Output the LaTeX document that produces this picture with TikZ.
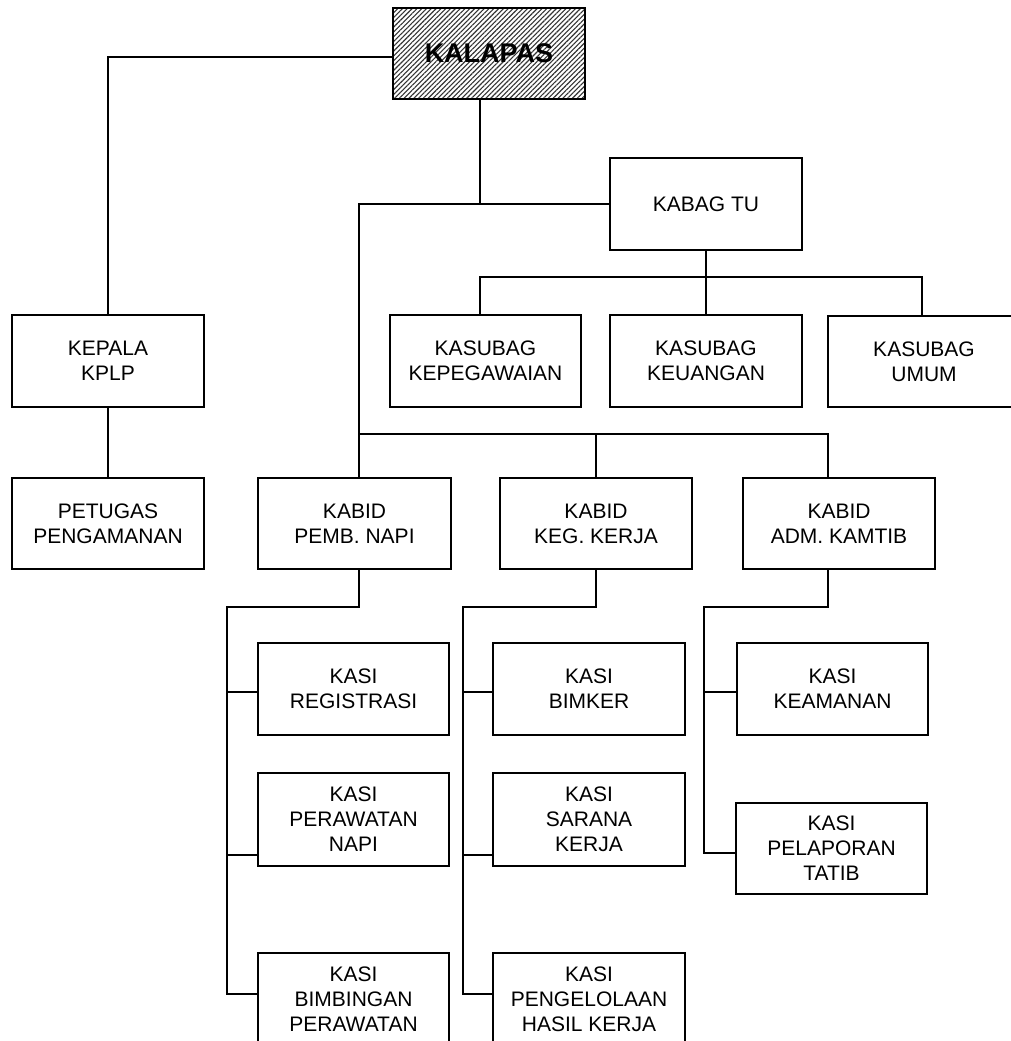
\documentclass[tikz,border=0pt]{standalone}
\usepackage{fontspec}
\setmainfont{Liberation Sans}
\usetikzlibrary{patterns.meta}
\tikzset{
  box/.style={draw=black, line width=1.2pt, fill=white, minimum width=192pt, minimum height=92pt, inner sep=0pt, align=center, font=\fontsize{21}{25}\selectfont},
  headbox/.style={box, minimum height=91pt, pattern={Lines[angle=45,distance=3.4pt,line width=1.1pt]}, pattern color=black!80, font=\fontsize{27}{30}\selectfont\bfseries},
  conn/.style={line width=1.2pt, line cap=rect}
}
\begin{document}
\begin{tikzpicture}[x=1pt,y=-1pt]
\useasboundingbox (0,0) rectangle (1011,1041);
\clip (0,0) rectangle (1011,1041);
% nodes
\node[headbox] (kalapas) at (489,53.5) {KALAPAS};
\node[box] (kplp) at (108,361) {KEPALA\\KPLP};
\node[box, minimum height=91pt] (petugas) at (108,523.5) {PETUGAS\\PENGAMANAN};
\node[box] (kabagtu) at (706,204) {KABAG TU};
\node[box, minimum width=191pt] (kepeg) at (485.5,361) {KASUBAG\\KEPEGAWAIAN};
\node[box] (keu) at (706,361) {KASUBAG\\KEUANGAN};
\node[box, minimum height=91pt] (umum) at (924,361.5) {KASUBAG\\UMUM};
\node[box, minimum width=193pt, minimum height=91pt] (kabid1) at (354.5,523.5) {KABID\\PEMB. NAPI};
\node[box, minimum height=91pt] (kabid2) at (596,523.5) {KABID\\KEG. KERJA};
\node[box, minimum height=91pt] (kabid3) at (839,523.5) {KABID\\ADM. KAMTIB};
\node[box, minimum width=191pt] (reg) at (353.5,689) {KASI\\REGISTRASI};
\node[box, minimum width=191pt, minimum height=93pt] (rawat) at (353.5,819.5) {KASI\\PERAWATAN\\NAPI};
\node[box, minimum width=191pt] (bimb) at (353.5,999) {KASI\\BIMBINGAN\\PERAWATAN};
\node[box] (bimker) at (589,689) {KASI\\BIMKER};
\node[box, minimum height=93pt] (sarana) at (589,819.5) {KASI\\SARANA\\KERJA};
\node[box] (hasil) at (589,999) {KASI\\PENGELOLAAN\\HASIL KERJA};
\node[box, minimum width=191pt] (aman) at (832.5,689) {KASI\\KEAMANAN};
\node[box, minimum width=191pt, minimum height=91pt] (lapor) at (831.5,848.5) {KASI\\PELAPORAN\\TATIB};
% junction coordinates
\coordinate (jA) at (480,204);
\coordinate (jB) at (359,204);
\coordinate (jC) at (828,434);
\coordinate (jD) at (480,277);
\coordinate (jE) at (922,277);
\coordinate (jF) at (359,607);
\coordinate (jG) at (227,607);
\coordinate (jH) at (596,607);
\coordinate (jI) at (463,607);
\coordinate (jJ) at (828,607);
\coordinate (jK) at (704,607);
\coordinate (sR) at (227,692);
\coordinate (sP) at (227,855);
\coordinate (sB) at (227,994);
\coordinate (tR) at (463,692);
\coordinate (tP) at (463,855);
\coordinate (tB) at (463,994);
\coordinate (uR) at (704,692);
\coordinate (uP) at (704,853);
% connectors
\draw[conn] (kalapas.south -| jA) -- (jA) -- (jB);
\draw[conn] (jA) -- (kabagtu.west);
\draw[conn] ([yshift=-3.5pt]kalapas.west) -| (kplp.north);
\draw[conn] (kplp.south) -- (petugas.north);
\draw[conn] (jB) -- (jB |- kabid1.north);
\draw[conn] (jB |- jC) -- (jC) -- (jC |- kabid3.north);
\draw[conn] (kabid2.north |- jC) -- (kabid2.north);
\draw[conn] (kabagtu.south) -- (kabagtu.south |- jD);
\draw[conn] (jD) -- (jE) -- (jE |- umum.north);
\draw[conn] (jD) -- (jD |- kepeg.north);
\draw[conn] (keu.north |- jD) -- (keu.north);
% sub-branches
\draw[conn] (jF |- kabid1.south) -- (jF) -- (jG) -- (sB) -- (sB -| bimb.west);
\draw[conn] (sR) -- (sR -| reg.west);
\draw[conn] (sP) -- (sP -| rawat.west);
\draw[conn] (kabid2.south) -- (kabid2.south |- jH) -- (jI) -- (tB) -- (tB -| hasil.west);
\draw[conn] (tR) -- (tR -| bimker.west);
\draw[conn] (tP) -- (tP -| sarana.west);
\draw[conn] (jJ |- kabid3.south) -- (jJ) -- (jK) -- (uP) -- (uP -| lapor.west);
\draw[conn] (uR) -- (uR -| aman.west);
\end{tikzpicture}
\end{document}
